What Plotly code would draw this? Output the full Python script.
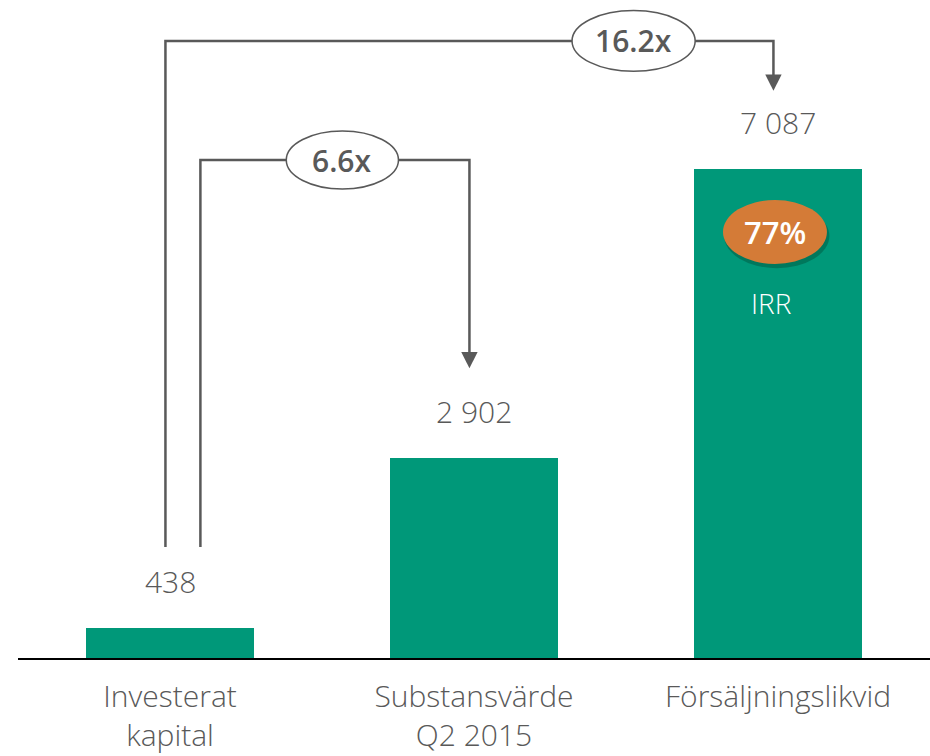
import plotly.graph_objects as go

categories = ["Investerat<br>kapital", "Substansvärde<br>Q2 2015", "Försäljningslikvid"]
values = [438, 2902, 7087]
value_labels = ["438", "2 902", "7 087"]
multiples = ["6.6x", "16.2x"]
irr_label = "77%"
irr_text = "IRR"

BAR = "#009879"
ORANGE = "#D47B37"
GREY = "#595959"
LINE = "#595959"
FONT = "Open Sans"

x = list(range(len(categories)))
fig = go.Figure()
fig.add_trace(go.Bar(x=x, y=values, width=0.555, marker=dict(color=BAR, line=dict(width=0)),
                     hoverinfo="skip"))

# value labels above bars
for xi, v, t in zip(x, values, value_labels):
    fig.add_annotation(x=xi, y=v, text=t, showarrow=False, yanchor="bottom", yshift=24,
                       font=dict(family=FONT, size=30, color=GREY, weight=300))

shapes = []
# bracket paths (data coords)
inner = dict(x0=0.10, x1=0.985, top=7217, bottom=1610, tip=4200)
outer = dict(x0=-0.015, x1=1.985, top=8942, bottom=1610, tip=8220)
for b in (inner, outer):
    shapes.append(dict(type="path", xref="x", yref="y",
                       path=f"M {b['x0']} {b['bottom']} L {b['x0']} {b['top']} L {b['x1']} {b['top']} L {b['x1']} {b['tip'] + 200}",
                       line=dict(color=LINE, width=2.5)))
    hw, hh = 0.027, 235
    shapes.append(dict(type="path", xref="x", yref="y",
                       path=f"M {b['x1'] - hw} {b['tip'] + hh} L {b['x1'] + hw} {b['tip'] + hh} L {b['x1']} {b['tip']} Z",
                       fillcolor=LINE, line=dict(color=LINE, width=0)))

# ovals with multiples
ovals = [(0.567, 7217, 0.369, 840), (1.525, 8942, 0.405, 880)]
for (cx, cy, w, h), lab in zip(ovals, multiples):
    shapes.append(dict(type="circle", xref="x", yref="y", x0=cx - w / 2, x1=cx + w / 2,
                       y0=cy - h / 2, y1=cy + h / 2, fillcolor="white",
                       line=dict(color=LINE, width=1.5)))
    fig.add_annotation(x=cx, y=cy, text=lab, showarrow=False,
                       font=dict(family=FONT, size=30, color=GREY, weight=600))

# IRR badge
bx, by, bw, bh = 1.99, 6174, 0.342, 928
shapes.append(dict(type="circle", xref="x", yref="y", x0=bx - bw / 2 + 0.004, x1=bx + bw / 2 + 0.008,
                   y0=by - bh / 2 - 60, y1=by + bh / 2 - 60, fillcolor="rgba(0,60,40,0.35)",
                   line=dict(width=0)))
shapes.append(dict(type="circle", xref="x", yref="y", x0=bx - bw / 2, x1=bx + bw / 2,
                   y0=by - bh / 2, y1=by + bh / 2, fillcolor=ORANGE, line=dict(width=0)))
fig.add_annotation(x=bx, y=by, text=irr_label, showarrow=False,
                   font=dict(family=FONT, size=31, color="white", weight=600))
fig.add_annotation(x=bx - 0.01, y=5145, text=irr_text, showarrow=False,
                   font=dict(family=FONT, size=28, color="white", weight=300))

fig.update_layout(
    width=930, height=756,
    margin=dict(l=18, r=0, t=8, b=98),
    plot_bgcolor="white", paper_bgcolor="white",
    showlegend=False, bargap=0,
    shapes=shapes,
    xaxis=dict(range=[-0.5, 2.5], tickvals=x, ticktext=categories, showgrid=False,
               zeroline=False, showline=True, linecolor="black", linewidth=2,
               ticks="", ticklabelstandoff=11, automargin=False,
               tickfont=dict(family=FONT, size=30, color=GREY, weight=300),
               fixedrange=True),
    yaxis=dict(range=[0, 9420], visible=False, fixedrange=True, automargin=False),
)
fig.write_html("out.html", config={"displayModeBar": False},
               post_script="document.body.style.margin='0px';")
